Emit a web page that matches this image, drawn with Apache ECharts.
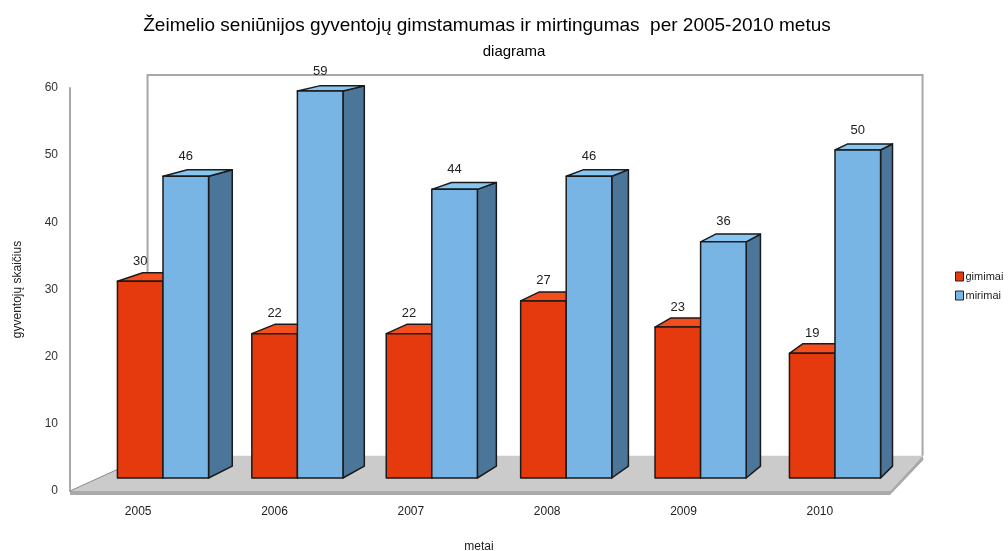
<!DOCTYPE html>
<html>
<head>
<meta charset="utf-8">
<script src="https://cdn.jsdelivr.net/npm/echarts@6/dist/echarts.min.js"></script>
<style>
html,body{margin:0;padding:0;background:#fff;}
#chart{width:1008px;height:551px;}
</style>
</head>
<body>
<div id="chart"></div>
<script>
// ---- data ----
const years = ['2005', '2006', '2007', '2008', '2009', '2010'];
const gimimai = [30, 22, 22, 27, 23, 19];
const mirimai = [46, 59, 44, 46, 36, 50];
const yTicks = [0, 10, 20, 30, 40, 50, 60];
const seriesNames = ['gimimai', 'mirimai'];

// ---- styles ----
const FONT = 'Liberation Sans, Arial, sans-serif';
const faces = {
  gimimai: {front: '#e53a0e', top: '#f44d1e', side: '#a02a0a'},
  mirimai: {front: '#78b5e4', top: '#87c6f3', side: '#4b7599'}
};
// perspective helpers (vanishing point)
const VX = 1563, VY = -200, KBAR = 0.0175;
const FVX = 1480, FVY = -150, KFLOOR = 0.055;
function back(p, k, vx, vy) { return [p[0] + k * (vx - p[0]), p[1] + k * (vy - p[1])]; }

const chart = echarts.init(document.getElementById('chart'), null, {renderer: 'canvas'});

function barRender(sIdx) {
  return function (params, api) {
    const cat = api.value(0), v = api.value(1);
    const top = api.coord([cat, v]);
    const base = api.coord([cat, 0]);
    const band = api.size([1, 0])[0];
    const w = band * 0.339;
    const xl = sIdx === 0 ? top[0] - w : top[0];
    const xr = xl + w;
    const yt = top[1], yb = base[1];
    const f = faces[seriesNames[sIdx]];
    const bt = (p) => back(p, KBAR, VX, VY);
    const FL = [xl, yt], FR = [xr, yt], BR = [xr, yb];
    const stroke = {stroke: '#1a1a1a', lineWidth: 1.5, lineJoin: 'round'};
    return {
      type: 'group',
      children: [
        {type: 'polygon', shape: {points: [FR, bt(FR), bt(BR), BR]},
         style: Object.assign({fill: f.side}, stroke)},
        {type: 'polygon', shape: {points: [FL, FR, bt(FR), bt(FL)]},
         style: Object.assign({fill: f.top}, stroke)},
        {type: 'rect', shape: {x: xl, y: yt, width: w, height: yb - yt},
         style: Object.assign({fill: f.front}, stroke)},
        {type: 'text', x: (xl + xr) / 2, y: yt - 20,
         style: {text: String(v), fill: '#222', font: '13px ' + FONT,
                 align: 'center', verticalAlign: 'middle'}}
      ]
    };
  };
}

function frameRender(params, api) {
  const cs = params.coordSys;
  const x0 = cs.x, x1 = cs.x + cs.width, y0 = cs.y, y1 = cs.y + cs.height;
  const bf = (p) => back(p, KFLOOR, FVX, FVY);
  const fl = [x0, y1], fr = [x1, y1];
  const bl = bf(fl), br = bf(fr);
  const tl = bf([x0, y0]), tr = bf([x1, y0]);
  const th = 4;
  return {
    type: 'group',
    children: [
      // floor thickness (front + right side)
      {type: 'polygon', shape: {points: [[x0, y1], [x1 + 2, y1], [br[0] + 2, br[1]], [br[0] + 3, br[1] + th], [x1 + 2, y1 + th], [x0, y1 + th]]},
       style: {fill: '#a9a9a9'}},
      // floor top
      {type: 'polygon', shape: {points: [fl, [x1 + 2, y1], [br[0] + 2, br[1]], bl]},
       style: {fill: '#cbcbcb'}},
      // back wall frame
      {type: 'polyline', shape: {points: [[bl[0], bl[1]], [tl[0], tl[1]], [tr[0] + 2, tr[1]], [br[0] + 2, br[1]]]},
       style: {stroke: '#a8a8a8', lineWidth: 2, fill: null}},
      // left floor edge
      {type: 'line', shape: {x1: fl[0], y1: fl[1], x2: bl[0], y2: bl[1]},
       style: {stroke: '#8a8a8a', lineWidth: 1}}
    ]
  };
}

const option = {
  animation: false,
  backgroundColor: '#ffffff',
  title: [
    {text: 'Žeimelio seniūnijos gyventojų gimstamumas ir mirtingumas  per 2005-2010 metus',
     left: 482, top: 11, textAlign: 'center',
     textStyle: {fontFamily: FONT, fontSize: 19, fontWeight: 'normal', color: '#000'}},
    {text: 'diagrama', left: 509, top: 39, textAlign: 'center',
     textStyle: {fontFamily: FONT, fontSize: 15, fontWeight: 'normal', color: '#000'}}
  ],
  legend: {
    orient: 'vertical', left: 950, top: 266,
    itemWidth: 8, itemHeight: 9, itemGap: 8,
    icon: 'rect',
    data: seriesNames,
    textStyle: {fontFamily: FONT, fontSize: 11, color: '#222', padding: [0, 0, 0, -3]},
    itemStyle: {borderColor: '#222', borderWidth: 1}
  },
  grid: [
    {left: 70, right: 120, top: 88, bottom: 60, outerBoundsMode: 'none', containLabel: false},
    {left: 95.8, right: 105.8, top: 84.4, bottom: 73, outerBoundsMode: 'none', containLabel: false}
  ],
  xAxis: [
    {type: 'category', gridIndex: 0, data: years,
     name: 'metai', nameLocation: 'middle', nameGap: 50,
     nameTextStyle: {fontFamily: FONT, fontSize: 12, color: '#222'},
     axisLine: {show: false}, axisTick: {show: false},
     axisLabel: {fontFamily: FONT, fontSize: 12, color: '#222', margin: 15}},
    {type: 'category', gridIndex: 1, data: years, show: false}
  ],
  yAxis: [
    {type: 'value', gridIndex: 0, min: yTicks[0], max: yTicks[yTicks.length - 1], interval: 10,
     name: 'gyventojų skaičius', nameLocation: 'middle', nameGap: 46,
     nameTextStyle: {fontFamily: FONT, fontSize: 12, color: '#222'},
     axisLine: {show: true, lineStyle: {color: '#a8a8a8', width: 2}},
     axisTick: {show: false}, splitLine: {show: false},
     axisLabel: {fontFamily: FONT, fontSize: 12, color: '#333', margin: 12}},
    {type: 'value', gridIndex: 1, min: 0, max: 60, show: false, splitLine: {show: false}}
  ],
  series: [
    {type: 'custom', name: '_frame', xAxisIndex: 0, yAxisIndex: 0, silent: true, z: 1,
     data: [[0, 0]], renderItem: frameRender},
    {type: 'custom', name: seriesNames[0], xAxisIndex: 1, yAxisIndex: 1, z: 2,
     itemStyle: {color: faces.gimimai.front},
     encode: {x: 0, y: 1},
     data: gimimai.map((v, i) => [i, v]), renderItem: barRender(0)},
    {type: 'custom', name: seriesNames[1], xAxisIndex: 1, yAxisIndex: 1, z: 3,
     itemStyle: {color: faces.mirimai.front},
     encode: {x: 0, y: 1},
     data: mirimai.map((v, i) => [i, v]), renderItem: barRender(1)}
  ]
};
chart.setOption(option);
</script>
</body>
</html>
